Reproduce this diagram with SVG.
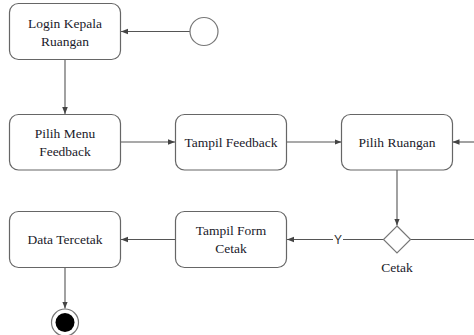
<svg xmlns="http://www.w3.org/2000/svg" width="474" height="335" viewBox="0 0 474 335">
<defs>
<marker id="arr" viewBox="0 0 10 10" refX="10" refY="5" markerWidth="7" markerHeight="7" markerUnits="userSpaceOnUse" orient="auto">
<path d="M0,1 L10,5 L0,9 Z" fill="#444"/>
</marker>
<style>
.box{fill:#fff;stroke:#666;stroke-width:1.2}
.t{font-size:13.5px;fill:#1a1a2a;text-anchor:middle}
.ln{stroke:#555;stroke-width:1.1;fill:none}
</style>
</defs>
<rect width="474" height="335" fill="#fff"/>
<g id="connectors">
<line class="ln" x1="190" y1="31.5" x2="121" y2="31.5" marker-end="url(#arr)"/>
<line class="ln" x1="65" y1="59.5" x2="65" y2="114" marker-end="url(#arr)"/>
<line class="ln" x1="120.5" y1="142" x2="175" y2="142" marker-end="url(#arr)"/>
<line class="ln" x1="286.5" y1="142" x2="341.5" y2="142" marker-end="url(#arr)"/>
<line class="ln" x1="474" y1="142" x2="452.5" y2="142" marker-end="url(#arr)"/>
<line class="ln" x1="397" y1="170" x2="397" y2="225.5" marker-end="url(#arr)"/>
<line class="ln" x1="410.5" y1="239.5" x2="474" y2="239.5"/>
<line class="ln" x1="383.5" y1="239.5" x2="287" y2="239.5" marker-end="url(#arr)"/>
<line class="ln" x1="175" y1="239.5" x2="121" y2="239.5" marker-end="url(#arr)"/>
<line class="ln" x1="65" y1="267.5" x2="65" y2="308.5" marker-end="url(#arr)"/>
<rect x="333" y="232" width="10" height="14" fill="#fff"/>
<text x="338" y="244" font-family="Liberation Sans, Arial, sans-serif" font-size="12" fill="#333" text-anchor="middle">Y</text>
</g>
<g font-family="Liberation Serif, Times New Roman, serif">
<g id="start"><circle cx="204" cy="31.5" r="14" fill="#fff" stroke="#777" stroke-width="1.2"/></g>
<g id="login"><rect class="box" x="9.5" y="3.5" width="111" height="56" rx="9"/>
<text class="t" x="65" y="28">Login Kepala</text><text class="t" x="65" y="45.5">Ruangan</text></g>
<g id="pilihmenu"><rect class="box" x="9.5" y="114.5" width="111" height="55.5" rx="9"/>
<text class="t" x="65" y="138">Pilih Menu</text><text class="t" x="65" y="156">Feedback</text></g>
<g id="tampilfeedback"><rect class="box" x="175.5" y="114.5" width="111" height="55.5" rx="9"/>
<text class="t" x="231" y="147">Tampil Feedback</text></g>
<g id="pilihruangan"><rect class="box" x="341.5" y="114.5" width="111" height="55.5" rx="9"/>
<text class="t" x="397" y="147">Pilih Ruangan</text></g>
<g id="cetak"><path d="M397,226 L410.5,239.5 L397,253 L383.5,239.5 Z" fill="#fff" stroke="#777" stroke-width="1.2"/>
<text class="t" x="397" y="272">Cetak</text></g>
<g id="tampilform"><rect class="box" x="175.5" y="211.5" width="111" height="56" rx="9"/>
<text class="t" x="231" y="235">Tampil Form</text><text class="t" x="231" y="253">Cetak</text></g>
<g id="datatercetak"><rect class="box" x="9.5" y="211.5" width="111" height="56" rx="9"/>
<text class="t" x="65" y="244">Data Tercetak</text></g>
<g id="end"><circle cx="65" cy="322.5" r="13.5" fill="#fff" stroke="#777" stroke-width="1.2"/><circle cx="65" cy="322.5" r="9.5" fill="#000"/></g>
</g>
</svg>
